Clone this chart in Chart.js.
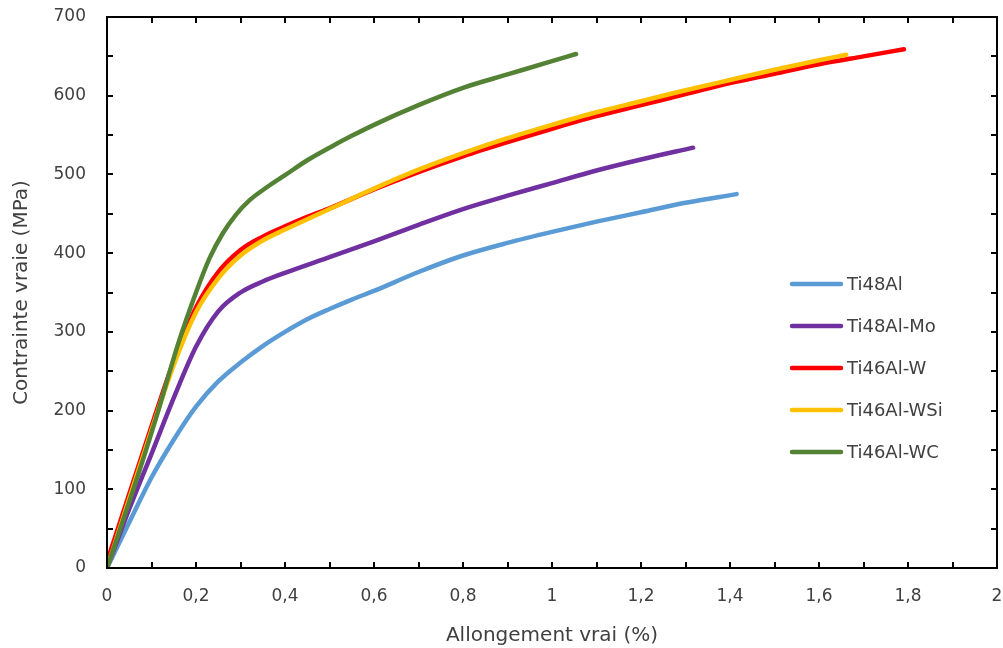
<!DOCTYPE html>
<html>
<head>
<meta charset="utf-8">
<script src="https://cdn.jsdelivr.net/npm/chart.js@4.4.1/dist/chart.umd.min.js"></script>
<style>
    html, body { margin: 0; padding: 0; background: #fff; }
    #wrap { width: 1003px; height: 648px; }
</style>
</head>
<body>
<div id="wrap"><canvas id="chart"></canvas></div>
<script>
// Courbes contrainte vraie / allongement vrai
const seriesLabels = ['Ti48Al', 'Ti48Al-Mo', 'Ti46Al-W', 'Ti46Al-WSi', 'Ti46Al-WC'];
const seriesColors = ['#5B9BD5', '#7030A0', '#FF0000', '#FFC000', '#548235'];

const ti48alX = [0, 0.05, 0.1, 0.15, 0.2, 0.25, 0.3, 0.35, 0.4, 0.45, 0.5, 0.55, 0.6, 0.7, 0.8, 0.9, 1.0, 1.1, 1.2, 1.3, 1.415];
const ti48alY = [0, 58, 115, 163, 205, 237, 261, 282, 300, 316, 329, 341, 352, 376, 397, 413, 427, 440, 452, 464, 475];

const ti48alMoX = [0, 0.05, 0.1, 0.15, 0.2, 0.25, 0.3, 0.35, 0.4, 0.5, 0.6, 0.7, 0.8, 0.9, 1.0, 1.1, 1.2, 1.317];
const ti48alMoY = [0, 75, 145, 216, 281, 326, 350, 364, 375, 395, 415, 436, 456, 473, 489, 505, 519, 534];

const ti46alWX = [0, 0.05, 0.1, 0.15, 0.2, 0.25, 0.3, 0.35, 0.4, 0.45, 0.5, 0.6, 0.7, 0.8, 0.9, 1.0, 1.1, 1.2, 1.3, 1.4, 1.5, 1.6, 1.7, 1.791];
const ti46alWY = [8, 94, 180, 263, 331, 376, 404, 421, 434, 446, 457, 481, 503, 523, 541, 558, 574, 588, 602, 616, 628, 640, 650, 659];

const ti46alWSiX = [0, 0.05, 0.1, 0.15, 0.2, 0.25, 0.3, 0.35, 0.4, 0.45, 0.5, 0.6, 0.7, 0.8, 0.9, 1.0, 1.1, 1.2, 1.3, 1.4, 1.5, 1.6, 1.661];
const ti46alWSiY = [0, 88, 175, 258, 325, 368, 397, 416, 430, 443, 456, 482, 506, 527, 546, 563, 579, 593, 607, 620, 633, 645, 652];

const ti46alWCX = [0, 0.06, 0.11, 0.16, 0.2, 0.23, 0.26, 0.29, 0.32, 0.36, 0.4, 0.45, 0.5, 0.55, 0.6, 0.7, 0.8, 0.9, 1.0, 1.054];
const ti46alWCY = [0, 101, 190, 285, 350, 393, 425, 449, 467, 484, 499, 518, 534, 549, 563, 588, 610, 627, 644, 653];

const xTickStep = 0.1;
const yTickStep = 50;

const seriesX = [ti48alX, ti48alMoX, ti46alWX, ti46alWSiX, ti46alWCX];
const seriesY = [ti48alY, ti48alMoY, ti46alWY, ti46alWSiY, ti46alWCY];
// dessin : WC au-dessus, Ti48Al en dessous
const drawOrder = [5, 4, 3, 2, 1];

const FONT = "'DejaVu Sans', sans-serif";
const TEXT = '#404040';

const fmt = v => String(Math.round(v * 10) / 10).replace('.', ',');

// cadre noir + graduations vers l'intérieur sur les quatre côtés
const frameTicks = {
    id: 'frameTicks',
    afterDatasetsDraw(chart) {
        const { ctx, chartArea: a, scales } = chart;
        const len = 6;
        ctx.save();
        ctx.strokeStyle = '#000';
        ctx.lineWidth = 2;
        ctx.strokeRect(a.left, a.top, a.right - a.left, a.bottom - a.top);
        ctx.beginPath();
        scales.x.ticks.forEach(t => {
            const px = Math.round(scales.x.getPixelForValue(t.value));
            ctx.moveTo(px, a.bottom); ctx.lineTo(px, a.bottom - len);
            ctx.moveTo(px, a.top); ctx.lineTo(px, a.top + len);
        });
        scales.y.ticks.forEach(t => {
            const py = Math.round(scales.y.getPixelForValue(t.value));
            ctx.moveTo(a.left, py); ctx.lineTo(a.left + len, py);
            ctx.moveTo(a.right, py); ctx.lineTo(a.right - len, py);
        });
        ctx.stroke();
        ctx.restore();
    }
};

// légende dans la zone du graphique
const innerLegend = {
    id: 'innerLegend',
    afterDraw(chart) {
        const { ctx } = chart;
        const x0 = 792, x1 = 841, yTop = 284, gap = 42;
        ctx.save();
        ctx.font = '18px ' + FONT;
        ctx.textBaseline = 'middle';
        ctx.fillStyle = TEXT;
        ctx.lineCap = 'round';
        ctx.lineWidth = 4.5;
        chart.data.datasets.forEach((ds, i) => {
            const y = yTop + i * gap;
            ctx.strokeStyle = ds.borderColor;
            ctx.beginPath();
            ctx.moveTo(x0, y);
            ctx.lineTo(x1, y);
            ctx.stroke();
            ctx.fillText(ds.label, x1 + 6, y + 1);
        });
        ctx.restore();
    }
};

const noScalePadding = s => {
    s.paddingLeft = 0; s.paddingRight = 0; s.paddingTop = 0; s.paddingBottom = 0;
};

const datasets = seriesLabels.map((label, i) => ({
    label: label,
    data: seriesX[i].map((x, j) => ({ x: x, y: seriesY[i][j] })),
    borderColor: seriesColors[i],
    backgroundColor: seriesColors[i],
    borderWidth: 4.5,
    borderCapStyle: 'round',
    borderJoinStyle: 'round',
    pointRadius: 0,
    cubicInterpolationMode: 'monotone',
    order: drawOrder[i],
    fill: false
}));

new Chart(document.getElementById('chart'), {
    type: 'line',
    data: { datasets: datasets },
    plugins: [frameTicks, innerLegend],
    options: {
        responsive: true,
        maintainAspectRatio: false,
        animation: false,
        layout: { padding: { left: 0, top: 17, right: 6, bottom: 0 } },
        plugins: {
            legend: { display: false },
            tooltip: { enabled: false }
        },
        scales: {
            x: {
                type: 'linear',
                min: 0,
                max: 2,
                grid: { display: false },
                border: { display: false },
                ticks: {
                    stepSize: xTickStep,
                    autoSkip: false,
                    maxRotation: 0,
                    padding: 10,
                    color: TEXT,
                    font: { family: FONT, size: 17 },
                    callback: v => (Math.round(v * 10) % 2 === 0 ? fmt(v) : '')
                },
                title: {
                    display: true,
                    text: 'Allongement vrai (%)',
                    color: TEXT,
                    font: { family: FONT, size: 20 },
                    padding: { top: 5, bottom: 0 }
                },
                afterFit: s => { s.height = 80; noScalePadding(s); }
            },
            y: {
                min: 0,
                max: 700,
                grid: { display: false },
                border: { display: false },
                ticks: {
                    stepSize: yTickStep,
                    autoSkip: false,
                    padding: 13,
                    color: TEXT,
                    font: { family: FONT, size: 17 },
                    callback: v => (v % 100 === 0 ? String(v) : '')
                },
                title: {
                    display: true,
                    text: 'Contrainte vraie (MPa)',
                    color: TEXT,
                    font: { family: FONT, size: 20 },
                    padding: { top: 10, bottom: 6 }
                },
                afterFit: s => { s.width = 107; noScalePadding(s); }
            }
        }
    }
});
</script>
</body>
</html>
